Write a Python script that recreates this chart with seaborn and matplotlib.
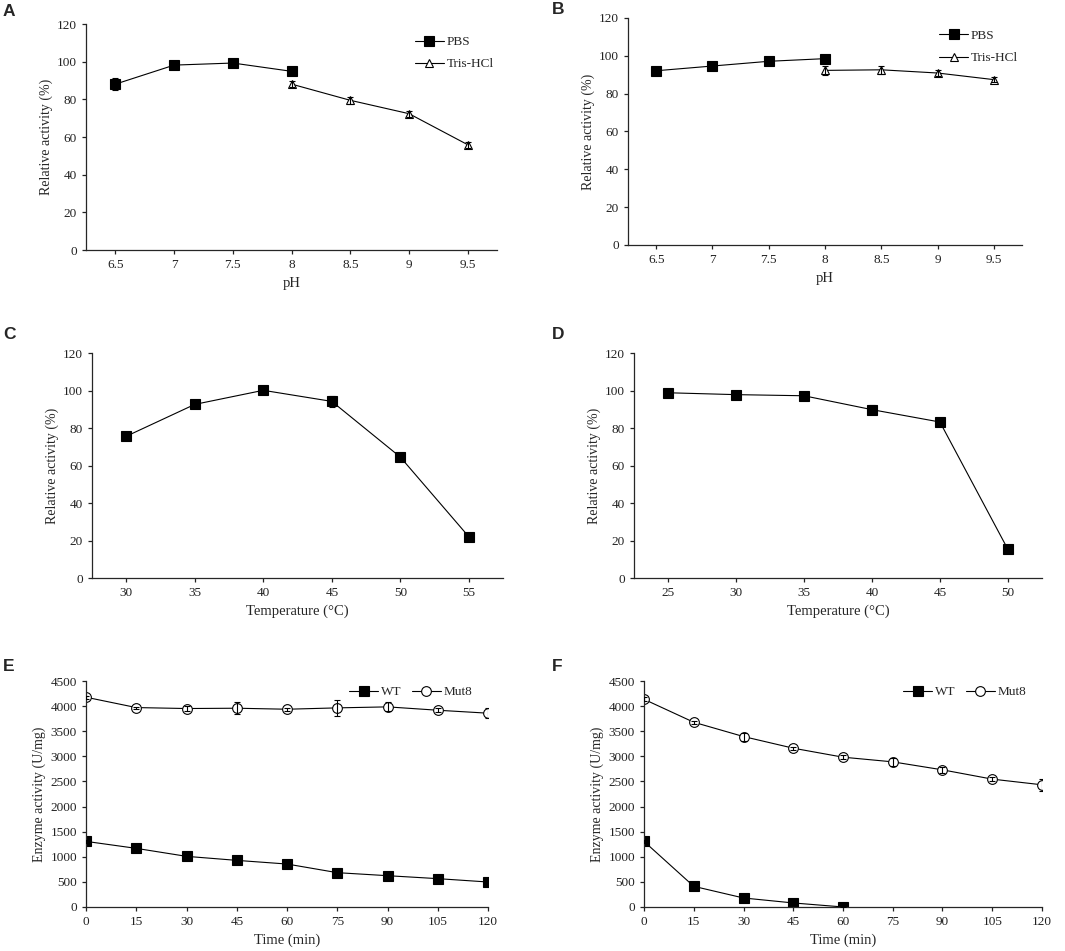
import numpy as np
import matplotlib
matplotlib.use("Agg")
import matplotlib.pyplot as plt
import seaborn as sns

# dados

ph_pbs = [6.5, 7, 7.5, 8]
act_pbs_a = [88.1, 98.2, 99.3, 94.9]
err_pbs_a = [3.0, 1.0, 1.0, 1.0]
ph_tris = [8, 8.5, 9, 9.5]
act_tris_a = [88.1, 79.5, 72.4, 55.9]
err_tris_a = [1.5, 2.0, 1.5, 1.5]

act_pbs_b = [92.1, 94.6, 97.1, 98.5]
err_pbs_b = [1.0, 1.0, 1.0, 1.2]
act_tris_b = [92.3, 92.6, 90.9, 87.4]
err_tris_b = [2.5, 2.0, 1.5, 1.2]

ph_ticks = [6.5, 7, 7.5, 8, 8.5, 9, 9.5]
ph_labels = ["6.5", "7", "7.5", "8", "8.5", "9", "9.5"]

temp_c = [30, 35, 40, 45, 50, 55]
act_c = [75.6, 92.6, 100.1, 94.2, 64.5, 22.0]
err_c = [1.0, 1.0, 2.0, 3.0, 1.0, 1.0]

temp_d = [25, 30, 35, 40, 45, 50]
act_d = [98.8, 97.8, 97.2, 89.8, 83.2, 15.3]
err_d = [1.0, 1.0, 1.0, 2.5, 1.0, 1.0]

time_min = [0, 15, 30, 45, 60, 75, 90, 105, 120]
wt_e = [1306, 1167, 1008, 928, 855, 683, 623, 564, 497]
wt_e_err = [30, 30, 30, 30, 30, 30, 30, 30, 30]
mut_e = [4177, 3971, 3952, 3958, 3938, 3965, 3985, 3918, 3859]
mut_e_err = [30, 20, 50, 120, 30, 160, 90, 40, 100]

time_wt_f = [0, 15, 30, 45, 60]
wt_f = [1306, 411, 179, 80, 0]
wt_f_err = [30, 30, 20, 20, 10]
mut_f = [4136, 3679, 3394, 3162, 2983, 2890, 2731, 2546, 2433]
mut_f_err = [40, 30, 80, 30, 40, 80, 60, 40, 120]

sns.set_style("ticks")
plt.rcParams["font.family"] = ["Liberation Serif", "DejaVu Serif"]
plt.rcParams["font.size"] = 9.5
plt.rcParams["axes.linewidth"] = 0.9
plt.rcParams["xtick.major.size"] = 3
plt.rcParams["ytick.major.size"] = 3
plt.rcParams["xtick.major.width"] = 0.9
plt.rcParams["ytick.major.width"] = 0.9

fig = plt.figure(figsize=(10.65, 9.51), dpi=100)

ax_a = fig.add_axes([0.0808, 0.7371, 0.386, 0.2376])
ax_b = fig.add_axes([0.5897, 0.7424, 0.370, 0.2387])
ax_c = fig.add_axes([0.0864, 0.3922, 0.386, 0.2366])
ax_d = fig.add_axes([0.5953, 0.3922, 0.383, 0.2366])
ax_e = fig.add_axes([0.0808, 0.0463, 0.3775, 0.2376])
ax_f = fig.add_axes([0.6047, 0.0463, 0.3737, 0.2376])


def serie(ax, x, y, err, marker, label=None, filled=True, ms=6.5):
    face = "black" if filled else "white"
    sns.lineplot(x=x, y=y, ax=ax, color="black", linewidth=0.8,
                 marker=marker, markersize=ms, markerfacecolor=face,
                 markeredgecolor="black", markeredgewidth=0.8,
                 label=label, legend=False, zorder=2)
    ax.errorbar(x, y, yerr=err, fmt="none", ecolor="black",
                elinewidth=0.8, capsize=2, capthick=0.8, zorder=3)


def estilo(ax, letra, px, py):
    sns.despine(ax=ax)
    ax.tick_params(colors="#222222", labelsize=9.5)
    ax.yaxis.labelpad = 3
    fig.text(px / 1065, 1 - py / 951, letra, fontsize=12.5,
             fontweight="bold", family="Liberation Sans", va="top")


# pH - enzima livre e imobilizada
for ax, pbs, epbs, tris, etris in [(ax_a, act_pbs_a, err_pbs_a, act_tris_a, err_tris_a),
                                   (ax_b, act_pbs_b, err_pbs_b, act_tris_b, err_tris_b)]:
    serie(ax, ph_pbs, pbs, epbs, "s", "PBS")
    serie(ax, ph_tris, tris, etris, "^", "Tris-HCl", filled=False, ms=6)
    ax.set_xlim(6.25, 9.75)
    ax.set_xticks(ph_ticks)
    ax.set_xticklabels(ph_labels)
    ax.set_ylim(0, 120)
    ax.set_yticks(np.arange(0, 121, 20))
    ax.set_xlabel("pH", fontsize=10.5)
    ax.set_ylabel("Relative activity (%)", fontsize=10)
    ax.legend(loc="upper right", frameon=False, fontsize=9.5, handlelength=2.2,
              handletextpad=0.2, labelspacing=0.75, bbox_to_anchor=(1.02, 1.0))

estilo(ax_a, "A", 3, 4)
estilo(ax_b, "B", 552, 2)

# temperatura
serie(ax_c, temp_c, act_c, err_c, "s")
ax_c.set_xlim(27.5, 57.5)
ax_c.set_xticks(temp_c)
serie(ax_d, temp_d, act_d, err_d, "s")
ax_d.set_xlim(22.5, 52.5)
ax_d.set_xticks(temp_d)
for ax in [ax_c, ax_d]:
    ax.set_ylim(0, 120)
    ax.set_yticks(np.arange(0, 121, 20))
    ax.set_xlabel("Temperature (°C)", fontsize=10.5)
    ax.set_ylabel("Relative activity (%)", fontsize=10)
estilo(ax_c, "C", 3, 327)
estilo(ax_d, "D", 552, 327)

# estabilidade ao longo do tempo
serie(ax_e, time_min, wt_e, wt_e_err, "s", "WT")
serie(ax_e, time_min, mut_e, mut_e_err, "o", "Mut8", filled=False, ms=7)
serie(ax_f, time_wt_f, wt_f, wt_f_err, "s", "WT")
serie(ax_f, time_min, mut_f, mut_f_err, "o", "Mut8", filled=False, ms=7)
for ax in [ax_e, ax_f]:
    ax.set_xlim(0, 120)
    ax.set_xticks(time_min)
    ax.set_ylim(0, 4500)
    ax.set_yticks(np.arange(0, 4501, 500))
    ax.set_xlabel("Time (min)", fontsize=10.5)
    ax.set_ylabel("Enzyme activity (U/mg)", fontsize=10)
    ax.legend(loc="upper right", frameon=False, fontsize=9.5, ncol=2,
              handlelength=2.2, handletextpad=0.2, columnspacing=0.8,
              bbox_to_anchor=(0.99, 1.03))
estilo(ax_e, "E", 3, 659)
estilo(ax_f, "F", 552, 659)

plt.savefig("out.png", dpi=100)
